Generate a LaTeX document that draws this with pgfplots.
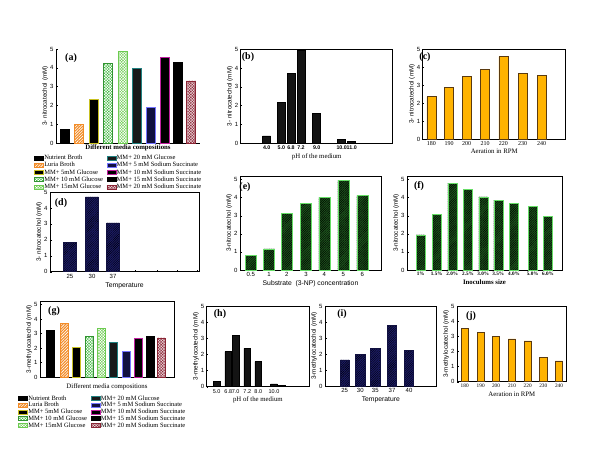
\documentclass[border=0pt]{standalone}
\usepackage{pgfplots}
\pgfplotsset{compat=1.18}
\usetikzlibrary{patterns,patterns.meta}
\usepackage{fontspec}
\setmainfont{Liberation Serif}
\setsansfont{Liberation Sans}
\definecolor{navyb}{HTML}{1C1C6A}
\definecolor{dgreen}{HTML}{1E5A1E}
\definecolor{lgreen}{HTML}{66DD66}
\definecolor{orangeb}{HTML}{FFB300}
\definecolor{brownedge}{HTML}{5A3A10}
\definecolor{lbor}{HTML}{F28C28}
\definecolor{gr1}{HTML}{3FB83F}
\definecolor{gr2}{HTML}{6CCB50}
\definecolor{redh}{HTML}{8B2535}
\definecolor{tealed}{HTML}{208080}
\definecolor{magen}{HTML}{C020A0}
\definecolor{yeled}{HTML}{C8C020}
\pgfplotsset{
  panel/.style={
    scale only axis, anchor=south west, ybar, bar shift=0pt,
    ymin=0, ymax=5, ytick={0,1,2,3,4,5},
    axis line style={line width=0.5pt},
    tick style={black, line width=0.4pt},
    major tick length=1.5pt,
    tick align=inside,
    ytick pos=left, xtick pos=bottom,
    /pgf/number format/assume math mode=true,
    tick label style={font=\sffamily\fontsize{6}{6.5}\selectfont},
    yticklabel style={xshift=1pt},
    xticklabel style={yshift=1pt},
    xlabel style={font=\fontsize{6.8}{7}\selectfont, yshift=3pt},
    ylabel style={font=\sffamily\fontsize{6.3}{6.3}\selectfont, yshift=-5pt},
    clip=false,
  },
  bb/.style={bar shift=0pt, line width=0.5pt},
  navy bar/.style={bb, fill=navyb, draw=navyb!60!black, postaction={pattern color=black, pattern={Lines[angle=45,distance=1.6pt,line width=0.4pt]}}},
  green bar/.style={bb, fill=dgreen, draw=lgreen, postaction={pattern color=black, pattern={Lines[angle=45,distance=1.6pt,line width=0.5pt]}}},
  orange bar/.style={bb, fill=orangeb, draw=brownedge},
  black bar/.style={bb, fill=black!92, draw=black},
  leg/.style={
    legend cell align=left,
    legend style={draw=none, fill=none, anchor=north west,
      font=\fontsize{6.5}{6}\selectfont, legend columns=2,
      /tikz/every even column/.append style={column sep=3pt},
      row sep=#1, inner sep=0pt, nodes={inner sep=0.6pt, text height=4.5pt, text depth=1pt}},
    legend image code/.code={\draw[##1] (0pt,-2pt) rectangle (9pt,2pt);},
  },
  m1/.style={bb, fill=black, draw=black},
  m2/.style={bb, fill=lbor, draw=lbor, postaction={pattern color=white, pattern={Lines[angle=45,distance=2pt,line width=0.6pt]}}},
  m3/.style={bb, fill=black, draw=yeled},
  m4/.style={bb, fill=gr1, draw=gr1!80!black, postaction={pattern color=white, pattern={Hatch[angle=45,distance=2pt,line width=0.5pt]}}},
  m5/.style={bb, fill=gr2, draw=gr2, postaction={pattern color=white, pattern={Hatch[angle=45,distance=2pt,line width=0.5pt]}}},
  m6/.style={bb, fill=black!90, draw=tealed},
  m7/.style={bb, fill=navyb!60!black, draw=blue!55},
  m8/.style={bb, fill=black, draw=magen},
  m9/.style={bb, fill=black, draw=black},
  m10/.style={bb, fill=redh, draw=redh, postaction={pattern color=white!80!redh, pattern={Hatch[angle=45,distance=2pt,line width=0.5pt]}}},
}
\begin{document}
\begin{tikzpicture}
\path[use as bounding box] (0,0) rectangle (600pt,448pt);

% (a)
\begin{axis}[panel, at={(56pt,305pt)}, width=144pt, height=94pt, xmin=0, xmax=144,
  axis x line*=bottom, axis y line*=left, bar width=9pt,
  xtick={8.7,23,37.8,52,66.7,80.7,94.3,109,122,135}, xticklabels={},
  xlabel={\bfseries Different media compositions}, xlabel style={yshift=5pt},
  ylabel={3- nitrocatechol (mM)},
  leg=0.6pt, legend style={at={(-0.153,-0.12)}}]
\addplot[m1] coordinates {(8.7,0.75)}; \addlegendentry{Nutrient Broth}
\addplot[m6] coordinates {(80.7,3.98)}; \addlegendentry{MM+ 20 mM Glucose}
\addplot[m2] coordinates {(23,0.98)}; \addlegendentry{Luria Broth}
\addplot[m7] coordinates {(94.3,1.88)}; \addlegendentry{MM+ 5 mM Sodium Succinate}
\addplot[m3] coordinates {(37.8,2.32)}; \addlegendentry{MM+ 5mM Glucose}
\addplot[m8] coordinates {(109,4.57)}; \addlegendentry{MM+ 10 mM Sodium Succinate}
\addplot[m4] coordinates {(52,4.25)}; \addlegendentry{MM+ 10 mM Glucose}
\addplot[m9] coordinates {(122,4.27)}; \addlegendentry{MM+ 15 mM Sodium Succinate}
\addplot[m5] coordinates {(66.7,4.87)}; \addlegendentry{MM+ 15mM Glucose}
\addplot[m10] coordinates {(135,3.3)}; \addlegendentry{MM+ 20 mM Sodium Succinate}
\end{axis}

% (b)
\begin{axis}[panel, at={(240.7pt,304.7pt)}, width=152pt, height=94pt, xmin=0, xmax=152,
  bar width=8pt, xtick={26,40.6,50.3,60.3,76,101,111},
  xticklabels={4.0,5.0,6.8,7.2,9.0,10.0,11.0},
  xticklabel style={font=\sffamily\bfseries\fontsize{5.3}{6}\selectfont},
  xlabel={pH of the medium}, ylabel={3- nitrocatechol (mM)}]
\addplot[black bar] coordinates {(26,0.39) (40.6,2.18) (50.3,3.72) (60.3,4.93) (76,1.6) (101,0.21) (111,0.09)};
\end{axis}

% (c)
\begin{axis}[panel, at={(422.7pt,309pt)}, width=143pt, height=89.7pt, xmin=0, xmax=143,
  bar width=9pt, xtick={8.7,26.3,44,62.3,80.7,100,119},
  xticklabels={180,190,200,210,220,230,240},
  xticklabel style={font=\fontsize{6}{6.5}\selectfont},
  xlabel={Aeration in RPM}, ylabel={3- nitrocatechol (mM)}]
\addplot[orange bar] coordinates {(8.7,2.36) (26.3,2.86) (44,3.48) (62.3,3.89) (80.7,4.59) (100,3.66) (119,3.55)};
\end{axis}

% (d)
\begin{axis}[panel, at={(50pt,176.3pt)}, width=149pt, height=79.7pt, xmin=0, xmax=149,
  bar width=13pt, xtick={20,42,63,85,106.7,126.7,146.7},
  xticklabels={25,30,37,,,,},
  xlabel={\sffamily Temperature}, ylabel={3- nitrocatechol (mM)}]
\addplot[navy bar] coordinates {(20,1.82) (42,4.7) (63,3.07)};
\end{axis}

% (e)
\begin{axis}[panel, at={(240pt,178pt)}, width=141pt, height=94pt, xmin=0, xmax=141, ymax=5.2,
  bar width=11pt, xtick={10.7,29,46.7,66,84.3,103.3,122.3},
  xticklabels={0.5,1,2,3,4,5,6},
  xlabel={\sffamily Substrate~~(3-NP) concentration}, ylabel={3-nitrocatechol (mM)}]
\addplot[green bar] coordinates {(10.7,0.8) (29,1.17) (46.7,3.15) (66,3.67) (84.3,4.02) (103.3,4.94) (122.3,4.11)};
\end{axis}

% (f)
\begin{axis}[panel, at={(407pt,178pt)}, width=155pt, height=94pt, xmin=0, xmax=155, ymax=5.2,
  bar width=9pt, xtick={13.7,29.7,45.3,61,76.3,91.3,107,125.7,141},
  xticklabels={1\%,1.5\%,2.0\%,2.5\%,3.0\%,3.5\%,4.0\%,5.0\%,6.0\%},
  xticklabel style={font=\bfseries\fontsize{5.2}{6}\selectfont},
  xlabel={\bfseries Inoculums size}, ylabel={3-nitrocatechol (mM)}]
\addplot[green bar] coordinates {(13.7,1.94) (29.7,3.09) (45.3,4.81) (61,4.44) (76.3,4.04) (91.3,3.87) (107,3.69) (125.7,3.54) (141,2.96)};
\end{axis}

% (g)
\begin{axis}[panel, at={(40pt,71pt)}, width=134pt, height=75.3pt, xmin=0, xmax=134, ymax=5.2,
  bar width=8pt,
  xtick={10.7,24,36.7,49.3,61,73,85.8,98,110,121.5}, xticklabels={},
  xlabel={Different media compositions}, ylabel={3-methylocatechol (mM)},
  leg=0pt, legend style={at={(-0.164,-0.239)}}]
\addplot[m1] coordinates {(10.7,3.24)}; \addlegendentry{Nutrient Broth}
\addplot[m6] coordinates {(73,2.43)}; \addlegendentry{MM+ 20 mM Glucose}
\addplot[m2] coordinates {(24,3.74)}; \addlegendentry{Luria Broth}
\addplot[m7] coordinates {(85.8,1.81)}; \addlegendentry{MM+ 5 mM Sodium Succinate}
\addplot[m3] coordinates {(36.7,2.05)}; \addlegendentry{MM+ 5mM Glucose}
\addplot[m8] coordinates {(98,2.67)}; \addlegendentry{MM+ 10 mM Sodium Succinate}
\addplot[m4] coordinates {(49.3,2.78)}; \addlegendentry{MM+ 10 mM Glucose}
\addplot[m9] coordinates {(110,2.83)}; \addlegendentry{MM+ 15 mM Sodium Succinate}
\addplot[m5] coordinates {(61,3.36)}; \addlegendentry{MM+ 15mM Glucose}
\addplot[m10] coordinates {(121.5,2.71)}; \addlegendentry{MM+ 20 mM Sodium Succinate}
\end{axis}

% (h)
\begin{axis}[panel, at={(206.7pt,61.3pt)}, width=102.3pt, height=80.7pt, xmin=0, xmax=102.3,
  bar width=6.7pt, xtick={10,21.6,29,40.6,51.6,67.3,75},
  xticklabels={5.0,6.8,7.0,7.2,8.0,10.0,},
  xticklabel style={font=\sffamily\fontsize{5.5}{6}\selectfont},
  xlabel={pH of the medium}, ylabel={3-methylocatechol (mM)}]
\addplot[black bar] coordinates {(10,0.35) (21.6,2.17) (29,3.16) (40.6,2.38) (51.6,1.55) (67.3,0.17) (75,0.06)};
\end{axis}

% (i)
\begin{axis}[panel, at={(325pt,62pt)}, width=111.7pt, height=80pt, xmin=0, xmax=111.7,
  bar width=9.3pt, xtick={19.7,35.3,50.3,67,84},
  xticklabels={25,30,35,37,40},
  xlabel={\sffamily Temperature}, ylabel={3-methylocatechol (mM)}]
\addplot[navy bar] coordinates {(19.7,1.63) (35.3,2.0) (50.3,2.36) (67,3.77) (84,2.25)};
\end{axis}

% (j)
\begin{axis}[panel, at={(457pt,66.3pt)}, width=109.7pt, height=75.7pt, xmin=0, xmax=109.7,
  bar width=7.3pt, xtick={7.7,23.7,39,55,70.7,86.3,102},
  xticklabels={180,190,200,210,220,230,240},
  xticklabel style={font=\fontsize{5.3}{6}\selectfont},
  xlabel={Aeration in RPM}, ylabel={3-methylocatechol (mM)}]
\addplot[orange bar] coordinates {(7.7,3.53) (23.7,3.24) (39,2.98) (55,2.83) (70.7,2.7) (86.3,1.62) (102,1.37)};
\end{axis}

\begin{scope}[every node/.style={font=\bfseries\fontsize{10}{10}\selectfont}]
\node at (71pt,390pt) {(a)};
\node at (248pt,391pt) {(b)};
\node at (425pt,391pt) {(c)};
\node at (61pt,245pt) {(d)};
\node at (245pt,261pt) {(e)};
\node at (419pt,262pt) {(f)};
\node at (54pt,137pt) {(g)};
\node at (220pt,134pt) {(h)};
\node at (342pt,134pt) {(i)};
\node at (471pt,132pt) {(j)};
\end{scope}
\end{tikzpicture}
\end{document}
